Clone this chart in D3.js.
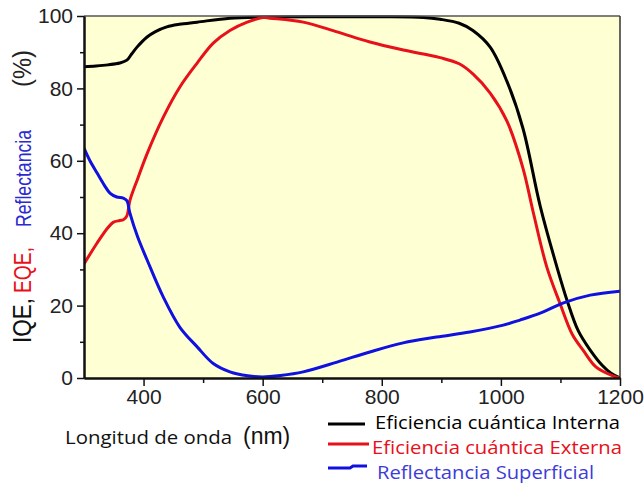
<!DOCTYPE html>
<html><head><meta charset="utf-8">
<script src="https://cdn.jsdelivr.net/npm/d3@7"></script>
<style>body{margin:0;background:#fff}svg{display:block}</style>
</head><body>
<svg id="c" width="644" height="483"></svg>
<script>
// Data (wavelength nm, percent)
const iqeWl  = [300,320,340,360,372,380,389,406,420,439,460,490,545,600,700,800,870,898,930,953,982,1010,1037,1066,1094,1111,1130,1150,1170,1185,1200];
const iqeVal = [86,86.2,86.5,87,87.8,89.5,91.4,94.2,95.7,97,97.7,98.3,99.4,99.7,99.8,99.8,99.6,99.1,98,96,91.4,82,69,47.5,30.7,21.5,13,7.7,3.5,1.3,0];
const eqeWl  = [300,322,340,349,360,366,372,377,390,406,433,461,490,517,545,574,601,612,668,725,780,836,898,930,953,982,1010,1037,1054,1077,1099,1120,1138,1160,1188,1200];
const eqeVal = [31.5,37.3,41.5,43,43.5,43.7,44.8,49,55,62,72,80.4,87,92.5,96,98.3,99.6,99.4,98.3,95.6,92.8,90.6,88.5,86.8,84,78.7,71,58,46,30.7,20.7,12,7.7,3,0.6,0];
const refWl  = [300,310,322,334,344,355,366,372,377,390,406,433,461,490,517,545,575,600,630,668,725,780,836,892,948,1004,1032,1066,1104,1150,1200];
const refVal = [63.5,60,56.6,53.3,51,50,49.7,49,45.6,39,32.6,22.4,14,8.6,4,1.7,0.6,0.3,0.7,1.7,4.4,7.2,9.7,11.3,12.7,14.6,16,17.9,20.7,22.9,24];
const xTicks = [400,600,800,1000,1200];
const yTicks = [0,20,40,60,80,100];
const legendLabels = ["Eficiencia cuántica Interna","Eficiencia cuántica Externa","Reflectancia Superficial"];
const colors = ["#000000","#e8101a","#1010e0"];

const svg = d3.select("#c");
const L=84, R=620, T=16, B=378;
const x = d3.scaleLinear().domain([300,1200]).range([L,R]);
const y = d3.scaleLinear().domain([0,100]).range([B,T]);

svg.append("rect").attr("x",L).attr("y",T).attr("width",R-L).attr("height",B-T).attr("fill","#ffffd4");

const defs = svg.append("defs");
defs.append("clipPath").attr("id","clip").append("rect").attr("x",L).attr("y",T-1).attr("width",R-L).attr("height",B-T+2);

const line = d3.line().x(d=>x(d[0])).y(d=>y(d[1])).curve(d3.curveCatmullRom.alpha(0.5));
const series = [[iqeWl,iqeVal],[eqeWl,eqeVal],[refWl,refVal]];
const g = svg.append("g").attr("clip-path","url(#clip)");
series.forEach((s,i)=>{
  g.append("path").datum(s[0].map((w,j)=>[w,s[1][j]]))
   .attr("d",line).attr("fill","none").attr("stroke",colors[i]).attr("stroke-width",3).attr("stroke-linejoin","round");
});

// frame top/right
svg.append("line").attr("x1",L).attr("x2",R).attr("y1",T).attr("y2",T).attr("stroke","#555").attr("stroke-width",1.5);
svg.append("line").attr("x1",R).attr("x2",R).attr("y1",T).attr("y2",B).attr("stroke","#333").attr("stroke-width",1.5);

// axes
const font = "'Liberation Sans', Arial, sans-serif";
const xAx = svg.append("g").attr("transform",`translate(0,${B})`)
  .call(d3.axisBottom(x).tickValues(xTicks).tickSize(8).tickSizeOuter(0).tickPadding(3).tickFormat(d3.format("d")));
const xMinor = svg.append("g").attr("transform",`translate(0,${B})`)
  .call(d3.axisBottom(x).tickValues([500,700,900,1100]).tickSize(5).tickSizeOuter(0).tickFormat(""));
const yAx = svg.append("g").attr("transform",`translate(${L},0)`)
  .call(d3.axisLeft(y).tickValues(yTicks).tickSize(7).tickSizeOuter(0).tickPadding(4));
const yMinor = svg.append("g").attr("transform",`translate(${L},0)`)
  .call(d3.axisLeft(y).tickValues([10,30,50,70,90]).tickSize(4).tickSizeOuter(0).tickFormat(""));
[xAx,xMinor,yAx,yMinor].forEach(a=>{
  a.select(".domain").attr("stroke","#111").attr("stroke-width",2);
  a.selectAll(".tick line").attr("stroke","#111").attr("stroke-width",1.5);
  a.selectAll("text").attr("font-family",font).attr("font-size",21).attr("fill","#222");
});

// y label pieces
const yl = [
  {t:"IQE,", c:"#111", s:22, y0:343, len:45},
  {t:"EQE,", c:"#e8101a", s:21, y0:293, len:46},
  {t:"Reflectancia", c:"#2a2ad0", s:19, y0:227, len:97},
  {t:"(%)", c:"#222", s:22, y0:87, len:37}
];
yl.forEach(p=>{
  svg.append("text").attr("transform",`translate(31,${p.y0}) rotate(-90) scale(1,1.18)`)
    .attr("font-family",font).attr("font-size",p.s).attr("fill",p.c)
    .attr("textLength",p.len).attr("lengthAdjust","spacingAndGlyphs").text(p.t);
});

// x label
const sfont = "'Open Sans','Noto Sans',sans-serif";
svg.append("text").attr("x",65).attr("y",444).attr("font-family",sfont).attr("font-size",19)
  .attr("textLength",167).attr("lengthAdjust","spacingAndGlyphs").attr("fill","#111").text("Longitud de onda");
svg.append("text").attr("x",243).attr("y",444).attr("font-family",font).attr("font-size",23).attr("fill","#111").text("(nm)");

// legend
const ly = [424,444,467];
const lb = [429,454,479];
const lx2 = [365,369,367];
const tx = [375,372,377];
const tl = [245,250,217];
legendLabels.forEach((t,i)=>{
  if (i==2) {
    svg.append("path").attr("d",`M328,${ly[i]+1}H350L353,${ly[i]-1}H${lx2[i]}`)
      .attr("fill","none").attr("stroke",colors[i]).attr("stroke-width",3);
  } else {
    svg.append("line").attr("x1",328).attr("x2",lx2[i]).attr("y1",ly[i]).attr("y2",ly[i]).attr("stroke",colors[i]).attr("stroke-width",3);
  }
  svg.append("text").attr("x",tx[i]).attr("y",lb[i]).attr("font-family",sfont).attr("font-size",18)
    .attr("textLength",tl[i]).attr("lengthAdjust","spacingAndGlyphs")
    .attr("fill",i==2?"#3c3cd8":colors[i]).text(t);
});
</script>
</body></html>
